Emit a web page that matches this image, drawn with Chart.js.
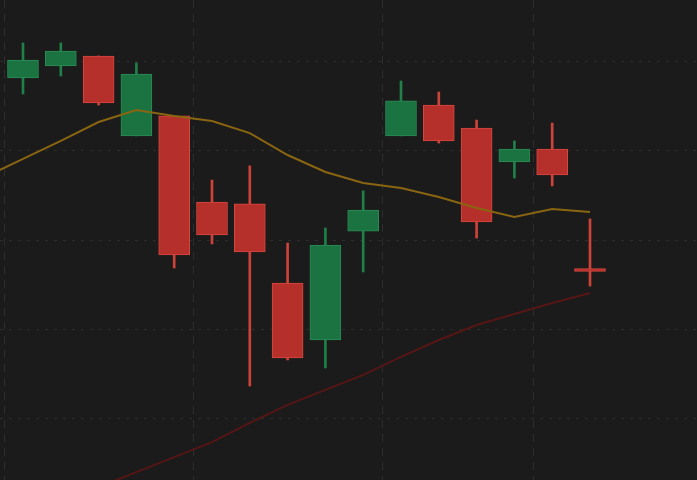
<!DOCTYPE html>
<html>
<head>
<meta charset="utf-8">
<script src="https://cdn.jsdelivr.net/npm/chart.js@4.4.1/dist/chart.umd.min.js"></script>
<style>
  html, body { margin: 0; padding: 0; background: #1b1b1b; }
  #wrap { width: 697px; height: 480px; }
</style>
</head>
<body>
<div id="wrap"><canvas id="candles"></canvas></div>
<script>
// one entry per session, oldest first
const opens  = [109.08, 109.75, 110.31, 105.83, 106.95, 102.13, 102.02, 97.59, 94.40, 100.50, 105.83, 107.56, 106.27, 104.37, 105.10, 98.40];
const highs  = [111.04, 111.04, 110.31, 109.92, 106.95, 103.36, 104.15, 99.83, 100.67, 102.75, 108.91, 108.29, 106.72, 105.55, 106.55, 101.18];
const lows   = [108.18, 109.19, 107.56, 105.83, 98.43, 99.78, 91.82, 93.28, 92.83, 98.21, 105.83, 105.43, 100.11, 103.47, 103.03, 97.42];
const closes = [110.08, 110.59, 107.68, 109.30, 99.16, 100.28, 99.33, 93.39, 99.72, 101.68, 107.79, 105.55, 101.01, 105.10, 103.64, 98.24];

// moving averages (the gold one starts one session before the first candle in view)
const fastMa = [103.53, 104.54, 105.55, 106.61, 107.28, 106.95, 106.67, 105.99, 104.76, 103.81, 103.19, 102.91, 102.41, 101.79, 101.29, 101.74, 101.57];
const slowMa = [null, null, null, 86.16, 87.00, 87.84, 88.68, 89.75, 90.76, 91.60, 92.44, 93.45, 94.40, 95.24, 95.85, 96.47, 97.03];

// grid: week boundaries on x, price levels on y
const weekBreaks = [-0.5, 4.5, 9.5, 13.5];
const priceTicks = [90, 95, 100, 105, 110];

const GREEN = '#1a7341', GREEN_EDGE = '#2a8c54', GREEN_WICK = '#1f8049';
const RED = '#b5302b', RED_EDGE = '#d9473e', RED_WICK = '#cc433a';

const up = opens.map((o, i) => closes[i] >= o);

const wicks = highs.map((h, i) => ({ x: i, y: [lows[i], h] }));
const bodies = opens.map((o, i) => ({ x: i, y: [o, closes[i]] }));
const fastPts = fastMa.map((v, i) => ({ x: i - 1, y: v }));
const slowPts = slowMa.map((v, i) => ({ x: i - 1, y: v }));

new Chart(document.getElementById('candles'), {
  type: 'bar',
  data: {
    datasets: [
      {
        type: 'line',
        data: fastPts,
        borderColor: '#8a6511',
        borderWidth: 2,
        pointRadius: 0,
        tension: 0,
        order: 0
      },
      {
        type: 'line',
        data: slowPts,
        borderColor: '#561616',
        borderWidth: 2,
        pointRadius: 0,
        tension: 0,
        order: 0
      },
      {
        data: bodies,
        backgroundColor: up.map(u => u ? GREEN : RED),
        borderColor: up.map(u => u ? GREEN_EDGE : RED_EDGE),
        borderWidth: 1,
        borderSkipped: false,
        barThickness: 31,
        grouped: false,
        order: 1
      },
      {
        data: wicks,
        backgroundColor: up.map(u => u ? GREEN_WICK : RED_WICK),
        barThickness: 2,
        grouped: false,
        order: 2
      }
    ]
  },
  options: {
    responsive: true,
    maintainAspectRatio: false,
    animation: false,
    layout: { padding: 0 },
    plugins: {
      legend: { display: false },
      tooltip: { enabled: false }
    },
    scales: {
      x: {
        type: 'linear',
        offset: false,
        min: -0.6085,
        max: 17.831,
        afterBuildTicks: axis => { axis.ticks = weekBreaks.map(v => ({ value: v })); },
        ticks: { display: false },
        grid: { color: '#2d2d2d', lineWidth: 1, drawTicks: false, offset: false },
        border: { display: false, dash: [8, 6] }
      },
      y: {
        min: 86.555,
        max: 113.445,
        afterBuildTicks: axis => { axis.ticks = priceTicks.map(v => ({ value: v })); },
        ticks: { display: false },
        grid: { color: '#2d2d2d', lineWidth: 1, drawTicks: false },
        border: { display: false, dash: [3, 6] }
      }
    }
  }
});
</script>
</body>
</html>
